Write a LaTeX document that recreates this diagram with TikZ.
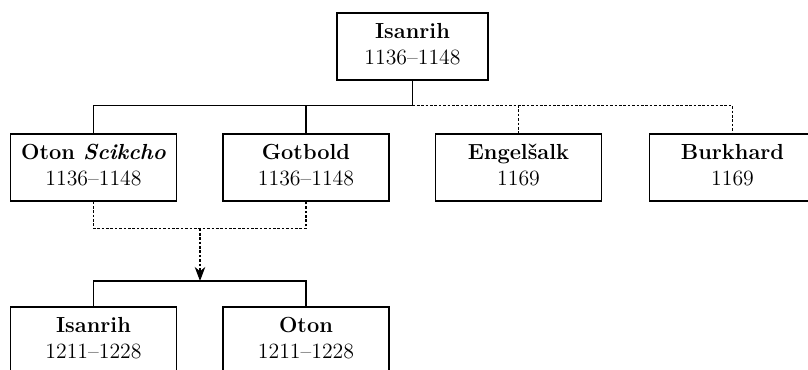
\documentclass[tikz,border=0pt]{standalone}
\usepackage{tikz}
\usetikzlibrary{arrows.meta}

\tikzset{
  ruler/.style={rectangle, draw, line width=0.6pt, inner sep=0pt,
    minimum width=3.32cm, minimum height=1.34cm,
    font=\fontsize{12.4}{14.8}\selectfont},
  lineage/.style={line width=0.6pt},
  uncertain/.style={lineage, dash pattern=on 1.5pt off 1pt},
}

\begin{document}
\begin{tikzpicture}
      \clip (0, 0) rectangle (16.16, 7.4);

      \node (top) [ruler, minimum width=3.02cm] at (8.25, 6.47) {
        \begin{tabular}{c}
          \textbf{Isanrih} \\
          1136--1148
        \end{tabular}
      };

      \node (oton) [ruler] at (1.87, 4.05) {
        \begin{tabular}{c}
          \textbf{Oton \textit{Scikcho}} \\
          1136--1148
        \end{tabular}
      };
      \node (gotbold) [ruler] at (6.12, 4.05) {
        \begin{tabular}{c}
          \textbf{Gotbold} \\
          1136--1148
        \end{tabular}
      };
      \node (engel) [ruler] at (10.37, 4.05) {
        \begin{tabular}{c}
          \textbf{Engelšalk} \\
          1169
        \end{tabular}
      };
      \node (burk) [ruler] at (14.65, 4.05) {
        \begin{tabular}{c}
          \textbf{Burkhard} \\
          1169
        \end{tabular}
      };

      \node (isanrihII) [ruler] at (1.87, 0.59) {
        \begin{tabular}{c}
          \textbf{Isanrih} \\
          1211--1228
        \end{tabular}
      };
      \node (otonII) [ruler] at (6.12, 0.59) {
        \begin{tabular}{c}
          \textbf{Oton} \\
          1211--1228
        \end{tabular}
      };

      % sons of Isanrih
      \coordinate (fork) at (8.25, 5.29);
      \draw[lineage] (top.south) -- (fork) -| (oton.north);
      \draw[lineage] (fork) -| (gotbold.north);
      \draw[uncertain] (fork) -| (engel.north);
      \draw[uncertain] (fork) -| (burk.north);

      % next generation
      \coordinate (join) at (4.0, 2.83);
      \coordinate (split) at (4.0, 1.78);
      \draw[uncertain] (oton.south) |- (join) -| (gotbold.south);
      \draw[uncertain, -{Stealth[length=8pt, width=6pt, inset=2.5pt]}] (join) -- (split);
      \draw[lineage] (isanrihII.north) |- (split) -| (otonII.north);
    \end{tikzpicture}
\end{document}
